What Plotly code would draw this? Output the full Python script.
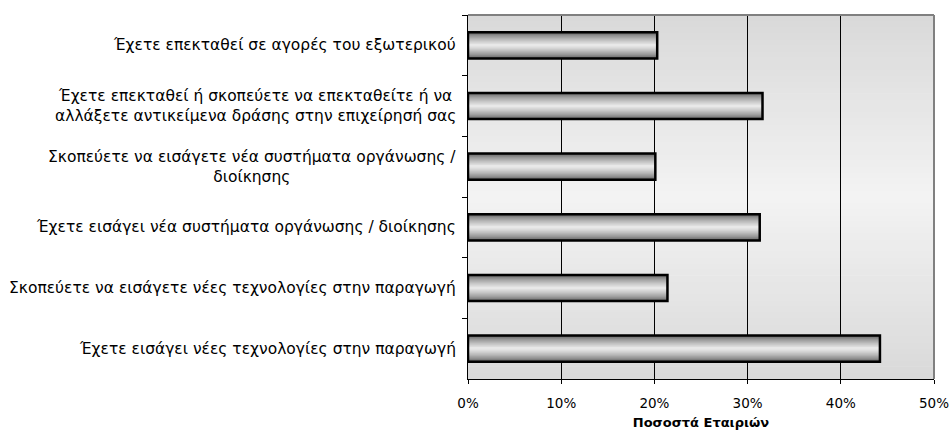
import plotly.graph_objects as go

categories = [
    "Έχετε επεκταθεί σε αγορές του εξωτερικού",
    "Έχετε επεκταθεί ή σκοπεύετε να επεκταθείτε ή να<br>αλλάξετε αντικείμενα δράσης στην επιχείρησή σας",
    "Σκοπεύετε να εισάγετε νέα συστήματα οργάνωσης /<br>διοίκησης",
    "Έχετε εισάγει νέα συστήματα οργάνωσης / διοίκησης",
    "Σκοπεύετε να εισάγετε νέες τεχνολογίες στην παραγωγή",
    "Έχετε εισάγει νέες τεχνολογίες στην παραγωγή",
]
values = [0.203, 0.316, 0.201, 0.313, 0.214, 0.442]
x_tickvals = [0, 0.1, 0.2, 0.3, 0.4, 0.5]
x_ticktext = ["0%", "10%", "20%", "30%", "40%", "50%"]
x_title = "Ποσοστά Εταιριών"

FONT = "DejaVu Sans"
BAR_W = 0.43
N_LAYERS = 14

fig = go.Figure()

def mix(c1, c2, t):
    return "rgb(%d,%d,%d)" % tuple(round(a + (b - a) * t) for a, b in zip(c1, c2))

# cylinder-like bars: overlay of narrowing, lightening bars
dark = (95, 95, 95)
light = (232, 232, 232)
for k in range(N_LAYERS):
    t = k / (N_LAYERS - 1)
    w = BAR_W * (1 - k / N_LAYERS)
    fig.add_trace(go.Bar(
        y=categories, x=values, orientation="h",
        width=w, marker=dict(color=mix(dark, light, t ** 0.7), line=dict(width=0)),
        hoverinfo="skip", showlegend=False,
    ))
# outline
fig.add_trace(go.Bar(
    y=categories, x=values, orientation="h", width=BAR_W,
    marker=dict(color="rgba(0,0,0,0)", line=dict(color="black", width=2.5)),
    showlegend=False,
))

# background vertical gradient (darker top/bottom, light middle)
shapes = []
NS = 60
top_c = (217, 217, 217)
mid_c = (243, 243, 243)
for i in range(NS):
    y0 = i / NS
    y1 = (i + 1) / NS
    ym = (y0 + y1) / 2
    t = 1 - abs(ym - 0.5) * 2
    shapes.append(dict(type="rect", xref="x domain", yref="y domain",
                       x0=0, x1=1, y0=y0, y1=y1 + 0.002,
                       fillcolor=mix(top_c, mid_c, t), line=dict(width=0),
                       layer="below"))
# gray top/right border
shapes.append(dict(type="line", xref="x domain", yref="y domain",
                   x0=0, x1=1, y0=1, y1=1, line=dict(color="#808080", width=2), layer="above"))
shapes.append(dict(type="line", xref="x domain", yref="y domain",
                   x0=1, x1=1, y0=0, y1=1, line=dict(color="#808080", width=2), layer="above"))

annotations = [
    dict(text=c, xref="paper", yref="y", x=0, y=c, xanchor="right", yanchor="middle",
         xshift=-10, align="center", showarrow=False,
         font=dict(family=FONT, size=15.5, color="black"))
    for c in categories
]

fig.update_layout(
    width=951, height=437,
    margin=dict(l=468, r=17, t=15, b=58),
    paper_bgcolor="white", plot_bgcolor="rgba(0,0,0,0)",
    barmode="overlay",
    font=dict(family=FONT, size=13, color="black"),
    shapes=shapes, annotations=annotations,
    xaxis=dict(
        range=[0, 0.5], tickvals=x_tickvals, ticktext=x_ticktext,
        showgrid=True, gridcolor="black", gridwidth=1,
        showline=True, linecolor="black", linewidth=1,
        ticks="outside", ticklen=4, tickcolor="black",
        ticklabelstandoff=8, automargin=False,
        tickfont=dict(family=FONT, size=13.5),
        zeroline=False,
        title=dict(text="<b>" + x_title + "</b>", font=dict(family=FONT, size=13), standoff=7),
    ),
    yaxis=dict(
        autorange="reversed", type="category",
        showticklabels=False, ticks="outside", ticklen=5, tickcolor="black",
        tickson="boundaries", automargin=False,
        showline=True, linecolor="black", linewidth=1, showgrid=False,
    ),
)

fig.write_html("out.html", config={"displayModeBar": False},
               post_script="document.body.style.margin='0';")
